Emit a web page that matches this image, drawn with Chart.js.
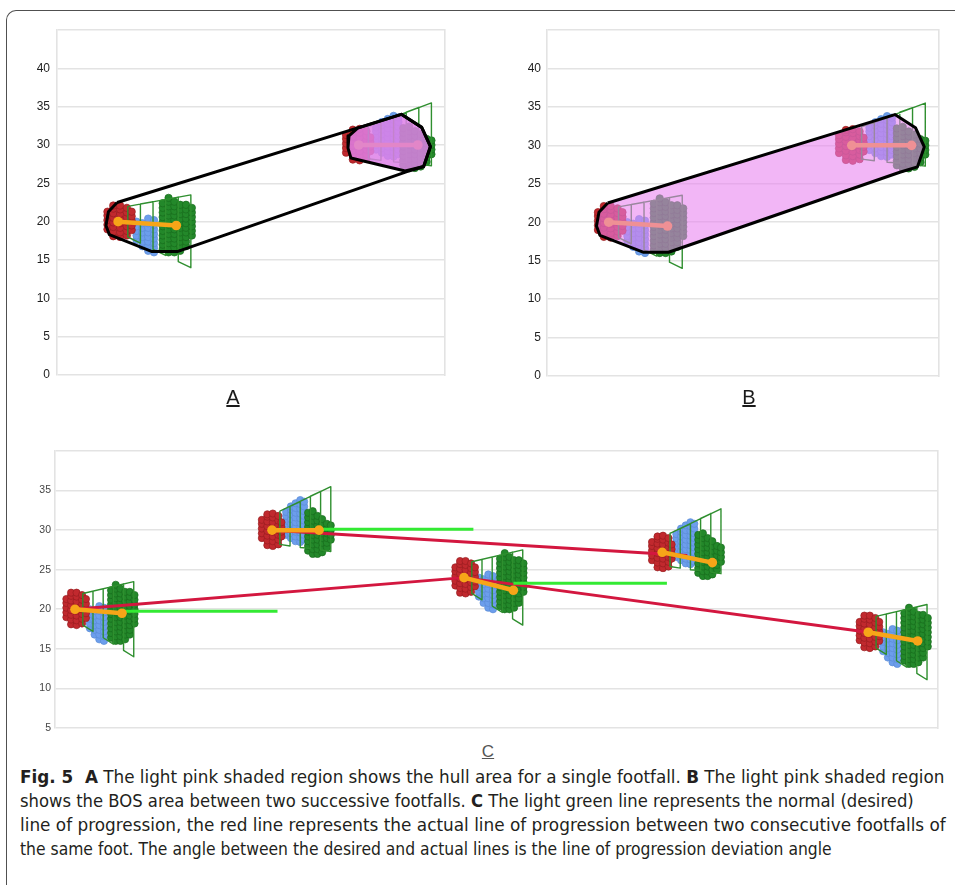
<!DOCTYPE html>
<html><head><meta charset="utf-8">
<script src="https://cdn.jsdelivr.net/npm/chart.js@4.4.0/dist/chart.umd.min.js"></script>
<style>
html,body{margin:0;padding:0;background:#fff;width:955px;height:885px;overflow:hidden;position:relative;}
.frame{position:absolute;left:6px;top:10px;width:1000px;height:1000px;border-top:1.5px solid #505050;border-left:1.5px solid #505050;border-top-left-radius:10px;}
canvas{position:absolute;}
.lab{position:absolute;font-family:"Liberation Sans",Arial,sans-serif;text-decoration:underline;transform:translateX(-50%);white-space:nowrap;}
.cap{position:absolute;left:20px;white-space:nowrap;font-family:"Liberation Sans Narrow","DejaVu Sans Condensed","Liberation Sans",sans-serif;font-size:17px;color:#231f20;transform-origin:0 0;line-height:24px;}
</style>
</head>
<body>
<div class="frame"></div>
<canvas id="cA" width="480" height="420" style="left:0;top:0"></canvas>
<canvas id="cB" width="475" height="420" style="left:480px;top:0"></canvas>
<canvas id="cC" width="955" height="300" style="left:0;top:440px"></canvas>
<div class="lab" style="left:233px;top:386px;font-size:20px;line-height:22px;color:#1a1a1a">A</div>
<div class="lab" style="left:749px;top:386px;font-size:20px;line-height:22px;color:#1a1a1a">B</div>
<div class="lab" style="left:488px;top:742px;font-size:17px;line-height:19px;color:#555">C</div>
<div class="cap" id="l1" data-w="924" style="top:765px"><b>Fig. 5&nbsp; A</b> The light pink shaded region shows the hull area for a single footfall. <b>B</b> The light pink shaded region</div>
<div class="cap" id="l2" data-w="894" style="top:789px">shows the BOS area between two successive footfalls. <b>C</b> The light green line represents the normal (desired)</div>
<div class="cap" id="l3" data-w="926" style="top:813px">line of progression, the red line represents the actual line of progression between two consecutive footfalls of</div>
<div class="cap" id="l4" data-w="812" style="top:837px">the same foot. The angle between the desired and actual lines is the line of progression deviation angle</div>
<script>
// ---------------- DATA ----------------
// Tick labels shown on the y axes
const AB_Y_TICKS = [0, 5, 10, 15, 20, 25, 30, 35, 40];
const C_Y_TICKS = [5, 10, 15, 20, 25, 30, 35];

// Panels A and B: two footfalls (heel centre, toe centre, foot side)
const AB_HEEL_X = [6.3, 31.1];
const AB_HEEL_Y = [20, 30];
const AB_TOE_X = [12.3, 37.2];
const AB_TOE_Y = [19.5, 30];
const AB_SIDE = ['L', 'R'];

// Convex hull of both footfalls (BOS area), and hull of the single footfall
const HULL_BOS = [[6.2,22.5],[5.3,21.3],[5.05,19.5],[5.4,18.3],[9.8,16.1],[12.4,16.1],[36.0,26.5],[37.8,27.2],[38.5,29.8],[37.6,32.3],[35.5,34.0],[6.2,22.5]];
const HULL_FOOT = [[31.0,32.2],[30.1,31.2],[30.0,29.6],[30.3,28.3],[35.9,26.6],[37.8,27.2],[38.5,29.8],[37.6,32.3],[35.5,34.0],[31.0,32.2]];

// Panel C: five footfalls
const C_HEEL_X = [2.55, 27.7, 52.2, 77.5, 103.8];
const C_HEEL_Y = [20, 30, 24, 27.2, 17.1];
const C_TOE_X = [8.55, 33.7, 58.5, 83.9, 110.1];
const C_TOE_Y = [19.5, 30, 22.4, 25.9, 16.0];
const C_SIDE = ['L', 'R', 'L', 'R', 'L'];
// desired (light green) lines of progression
const C_DESIRED_X0 = [8.5, 33.7, 58.5];
const C_DESIRED_X1 = [28.4, 53.4, 78.1];
const C_DESIRED_Y = [19.75, 30.1, 23.3];
// actual (red) lines of progression
const C_ACTUAL_1 = [[2.55,20],[52.2,24],[103.8,17.1]];
const C_ACTUAL_2 = [[27.7,30],[80.7,26.8]];

// Pressure-sensor dots of a footfall, relative to the heel centre: [column x, [row y...]]
const RED_L_COLS = [
  [-1.1, [-1.0,-0.4,0.2,0.8,1.3]],
  [-0.5, [-1.9,-1.3,-0.7,-0.1,0.5,1.1,1.7,2.1]],
  [0.2,  [-2.0,-1.4,-0.8,-0.2,0.4,1.0,1.6,2.1]],
  [0.9,  [-1.8,-1.2,-0.6,0.0,0.6,1.2,1.8]],
  [1.4,  [-1.1,-0.5,0.1,0.7,1.3]]
];
const BLUE_L_COLS = [
  [1.9, [-2.4,-1.8,-1.2,-0.6,0.0]],
  [2.5, [-3.2,-2.6,-2.0,-1.4,-0.8,-0.2]],
  [3.1, [-3.8,-3.2,-2.6,-2.0,-1.4,-0.8,-0.2,0.4]],
  [3.7, [-4.0,-3.4,-2.8,-2.2,-1.6,-1.0,-0.4,0.2]]
];
const GREEN_L_COLS = [
  [4.6, [-3.6,-3.0,-2.4,-1.8,-1.2,-0.6,0.0,0.6,1.2,1.8,2.4]],
  [5.2, [-4.0,-3.4,-2.8,-2.2,-1.6,-1.0,-0.4,0.2,0.8,1.4,2.0,2.6,3.1]],
  [5.8, [-4.0,-3.4,-2.8,-2.2,-1.6,-1.0,-0.4,0.2,0.8,1.4,2.0,2.6]],
  [6.4, [-3.8,-3.2,-2.6,-2.0,-1.4,-0.8,-0.2,0.4,1.0,1.6,2.2]],
  [7.0, [-3.2,-2.6,-2.0,-1.4,-0.8,-0.2,0.4,1.0,1.6,2.2]],
  [7.6, [-1.8,-1.2,-0.6,0.0,0.6,1.2,1.8]]
];
const RED_R_COLS = [
  [-1.3, [-1.0,-0.4,0.2,0.8,1.3]],
  [-0.6, [-1.9,-1.3,-0.7,-0.1,0.5,1.1,1.7,2.0]],
  [0.1,  [-2.0,-1.4,-0.8,-0.2,0.4,1.0,1.6,2.1]],
  [0.8,  [-1.8,-1.2,-0.6,0.0,0.6,1.2,1.8]],
  [1.2,  [-0.8,-0.2,0.4,1.0]]
];
const BLUE_R_COLS = [
  [1.8, [-0.6,0.0,0.6,1.2,1.8,2.3]],
  [2.4, [-1.0,-0.4,0.2,0.8,1.4,2.0,2.6,3.0]],
  [3.0, [-1.4,-0.8,-0.2,0.4,1.0,1.6,2.2,2.8,3.4]],
  [3.6, [-1.5,-0.9,-0.3,0.3,0.9,1.5,2.1,2.7,3.3,3.8]],
  [4.1, [-1.2,-0.6,0.0,0.6,1.2,1.8,2.4,3.0,3.6]]
];
const GREEN_R_COLS = [
  [4.6, [-2.6,-2.0,-1.4,-0.8,-0.2,0.4,1.0,1.6,2.2]],
  [5.2, [-3.0,-2.4,-1.8,-1.2,-0.6,0.0,0.6,1.2,1.8,2.4]],
  [5.8, [-3.0,-2.4,-1.8,-1.2,-0.6,0.0,0.6,1.2,1.8]],
  [6.4, [-2.8,-2.2,-1.6,-1.0,-0.4,0.2,0.8,1.4]],
  [7.0, [-2.2,-1.6,-1.0,-0.4,0.2,0.8]],
  [7.5, [-1.2,-0.6,0.0,0.6]]
];
// Sensor-grid trapezoid outline (with its cross lines), relative to heel centre
const TRAP_L = [[1,2],[1,-2],[2.3,-2.8],[2.3,2.3],[3.6,2.6],[3.6,-3.6],[4.9,-4.4],[4.9,2.9],[6.2,3.2],[6.2,-5.2],[7.5,-6],[7.5,3.5],[1,2]];
const TRAP_R = [[1,2.4],[1,-1.8],[2.3,-2.0],[2.3,3.0],[3.6,3.6],[3.6,-2.2],[4.9,-2.3],[4.9,4.3],[6.2,4.9],[6.2,-2.5],[7.5,-2.7],[7.5,5.5],[1,2.4]];

// ---------------- STYLE ----------------
const GRID = '#e3e3e3';
const RED_DOT = '#c1292e', RED_EDGE = '#981d1f';
const BLUE_DOT = '#6c9eec', BLUE_EDGE = '#5a8bd6';
const GREEN_DOT = '#23882a', GREEN_EDGE = '#186c1c';
const ORANGE = '#f7a518';

function colsToPts(list, hx, hy) {
  const out = [];
  for (const [dx, dys] of list) for (const dy of dys) out.push({x: hx + dx, y: hy + dy});
  return out;
}
function relPts(list, hx, hy) { return list.map(([dx, dy]) => ({x: hx + dx, y: hy + dy})); }
function absPts(list) { return list.map(([x, y]) => ({x, y})); }

function dotDs(data, bg, edge, order, r) {
  return {data, showLine: false, pointRadius: r, pointBackgroundColor: bg, pointBorderColor: edge,
          pointBorderWidth: 0.7, order};
}
function lineDs(data, color, width, order, extra) {
  return Object.assign({data, showLine: true, borderColor: color, borderWidth: width, pointRadius: 0,
          fill: false, tension: 0, order, borderJoinStyle: 'round'}, extra || {});
}
function footDatasets(hx, hy, tx, ty, side, r) {
  const L = side === 'L';
  return [
    dotDs(colsToPts(L ? BLUE_L_COLS : BLUE_R_COLS, hx, hy), BLUE_DOT, BLUE_EDGE, 9, r),
    dotDs(colsToPts(L ? GREEN_L_COLS : GREEN_R_COLS, hx, hy), GREEN_DOT, GREEN_EDGE, 8, r),
    dotDs(colsToPts(L ? RED_L_COLS : RED_R_COLS, hx, hy), RED_DOT, RED_EDGE, 7, r),
    lineDs(relPts(L ? TRAP_L : TRAP_R, hx, hy), '#2f8f2f', 1.4, 5),
    lineDs([{x: hx, y: hy}, {x: tx, y: ty}], ORANGE, 4.5, 2,
           {pointRadius: 4.8, pointBackgroundColor: ORANGE, pointBorderColor: ORANGE, pointBorderWidth: 0})
  ];
}

function makeChart(id, datasets, xr, yr, labels, pad, fontSize, tickColor, tickPad) {
  return new Chart(document.getElementById(id), {
    type: 'line',
    data: {datasets},
    options: {
      responsive: false, animation: false, devicePixelRatio: 1, events: [],
      layout: {padding: pad},
      plugins: {legend: {display: false}, tooltip: {enabled: false}},
      scales: {
        x: {type: 'linear', min: xr[0], max: xr[1], display: false},
        y: {type: 'linear', min: yr[0], max: yr[1],
            ticks: {stepSize: 5, padding: tickPad, color: tickColor, autoSkip: false,
                    font: {family: 'Liberation Sans', size: fontSize},
                    callback: (v) => labels.includes(v) ? String(v) : ''},
            grid: {color: GRID, lineWidth: 1.6, drawTicks: false},
            border: {display: true, color: GRID, width: 1.6},
            afterFit: (s) => { s.width = 40; }},
        yR: {type: 'linear', position: 'right', min: yr[0], max: yr[1],
             ticks: {display: false}, grid: {display: false},
             border: {display: true, color: GRID, width: 1.6},
             afterFit: (s) => { s.width = 0; }}
      }
    }
  });
}

// ---- Panel A ----
const dsA = [];
for (let i = 0; i < AB_HEEL_X.length; i++) dsA.push(...footDatasets(AB_HEEL_X[i], AB_HEEL_Y[i], AB_TOE_X[i], AB_TOE_Y[i], AB_SIDE[i], 3.7));
dsA.push(lineDs(absPts(HULL_FOOT), '#000', 3, 1, {fill: 'shape', backgroundColor: 'rgba(222,128,232,0.85)'}));
dsA.push(lineDs(absPts(HULL_BOS), '#000', 3, 0));
makeChart('cA', dsA, [0, 40], [0, 45], AB_Y_TICKS, {left: 17, right: 35, top: 30, bottom: 45}, 12, '#1e1e1e', 7);

// ---- Panel B ----
const dsB = [];
for (let i = 0; i < AB_HEEL_X.length; i++) dsB.push(...footDatasets(AB_HEEL_X[i], AB_HEEL_Y[i], AB_TOE_X[i], AB_TOE_Y[i], AB_SIDE[i], 3.7));
dsB.push(lineDs(absPts(HULL_BOS), '#000', 3, 0, {fill: 'shape', backgroundColor: 'rgba(232,130,240,0.58)'}));
makeChart('cB', dsB, [0, 40], [0, 45], AB_Y_TICKS, {left: 27, right: 16, top: 30, bottom: 44}, 12, '#1e1e1e', 6);

// ---- Panel C ----
const dsC = [];
for (let i = 0; i < C_HEEL_X.length; i++) dsC.push(...footDatasets(C_HEEL_X[i], C_HEEL_Y[i], C_TOE_X[i], C_TOE_Y[i], C_SIDE[i], 3.6));
dsC.push(lineDs(absPts(C_ACTUAL_1), '#d3173f', 3, 4));
dsC.push(lineDs(absPts(C_ACTUAL_2), '#d3173f', 3, 4));
for (let i = 0; i < C_DESIRED_Y.length; i++)
  dsC.push(lineDs([{x: C_DESIRED_X0[i], y: C_DESIRED_Y[i]}, {x: C_DESIRED_X1[i], y: C_DESIRED_Y[i]}], '#33ea33', 3, 3));
makeChart('cC', dsC, [0, 112.7], [5, 40], C_Y_TICKS, {left: 15, right: 17, top: 11, bottom: 12}, 10.5, '#444', 4);

// ---- caption line fitting ----
function fitCaption() {
  document.querySelectorAll('.cap').forEach(el => {
    el.style.transform = 'none';
    const w = el.scrollWidth;
    const target = parseFloat(el.dataset.w);
    el.style.transform = 'scaleX(' + (target / w) + ')';
  });
}
fitCaption();
if (document.fonts && document.fonts.ready) document.fonts.ready.then(fitCaption);
</script>
</body></html>
